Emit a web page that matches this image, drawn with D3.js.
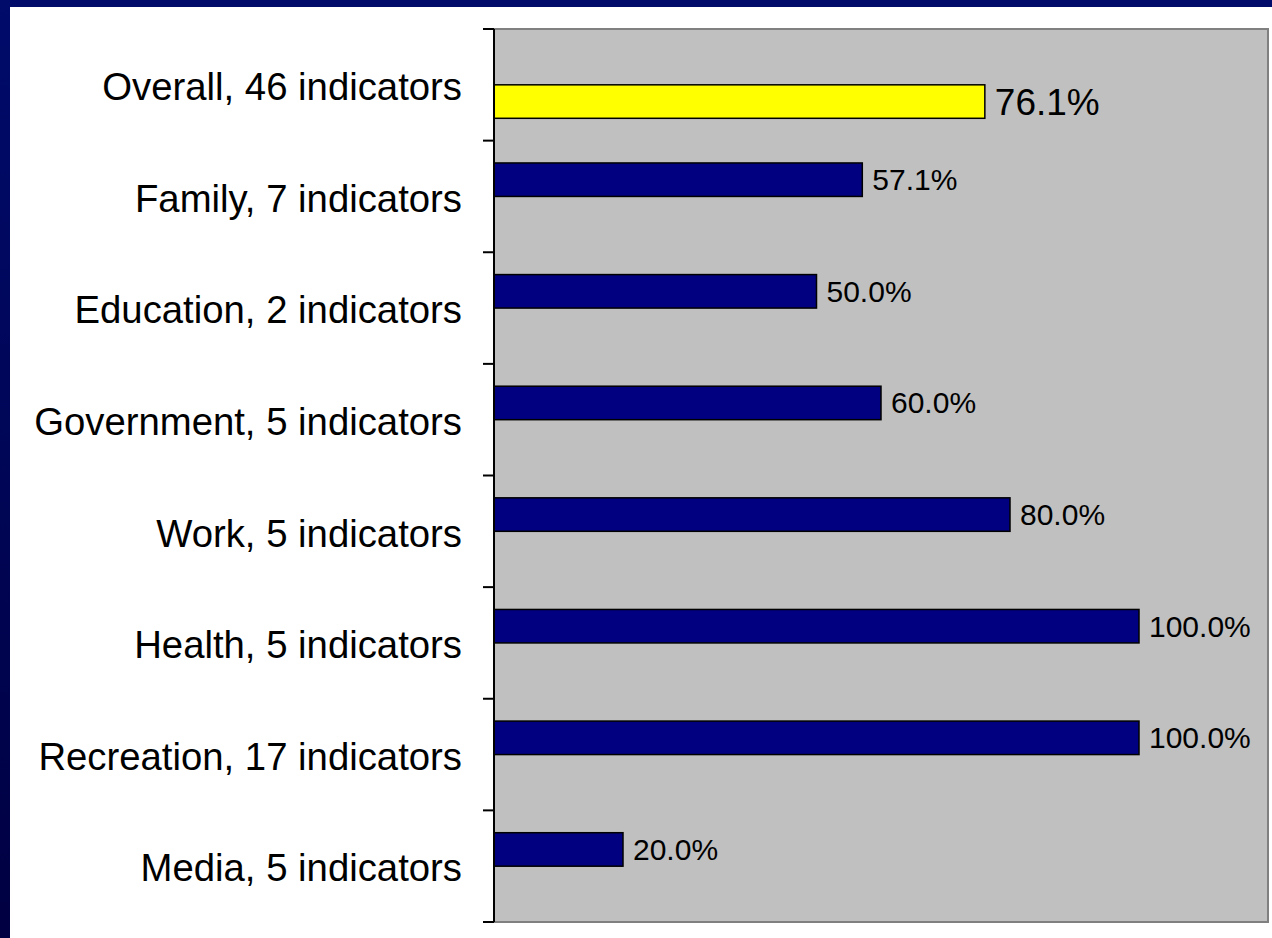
<!DOCTYPE html>
<html>
<head>
<meta charset="utf-8">
<script src="https://cdn.jsdelivr.net/npm/d3@7"></script>
<style>
  body { margin: 0; background: #fff; }
  svg { display: block; font-family: "Liberation Sans", Arial, sans-serif; }
</style>
</head>
<body>
<div id="chart"></div>
<script>
// Categories, top to bottom
const categories = [
    'Overall, 46 indicators',
    'Family, 7 indicators',
    'Education, 2 indicators',
    'Government, 5 indicators',
    'Work, 5 indicators',
    'Health, 5 indicators',
    'Recreation, 17 indicators',
    'Media, 5 indicators'
];

// Two series: the overall score (yellow) and the per-area scores (navy)
const overallValues = [76.1, null, null, null, null, null, null, null];
const areaValues = [null, 57.1, 50.0, 60.0, 80.0, 100.0, 100.0, 20.0];
const seriesNames = ['areas', 'overall'];

const xTicks = [0, 120];

const width = 1272;
const height = 938;
const plot = { left: 494, right: 1268, top: 29, bottom: 922 };

const svg = d3.select('#chart')
    .append('svg')
    .attr('width', width)
    .attr('height', height);

// Slide frame
const defs = svg.append('defs');
const grad = defs.append('linearGradient')
    .attr('id', 'frameGrad')
    .attr('x1', 0).attr('y1', 0).attr('x2', 0).attr('y2', 1);
grad.append('stop').attr('offset', '0%').attr('stop-color', '#000b6a');
grad.append('stop').attr('offset', '100%').attr('stop-color', '#000042');

svg.append('rect').attr('width', width).attr('height', height).attr('fill', '#fff');
svg.append('rect').attr('x', 0).attr('y', 0).attr('width', 10).attr('height', height).attr('fill', 'url(#frameGrad)');
svg.append('rect').attr('x', 0).attr('y', 0).attr('width', width).attr('height', 7).attr('fill', '#000b6a');

// Scales
const x = d3.scaleLinear()
    .domain(d3.extent(xTicks))
    .range([plot.left, plot.right]);

const y = d3.scaleBand()
    .domain(categories)
    .range([plot.top, plot.bottom])
    .paddingInner(0)
    .paddingOuter(0);

const ySub = d3.scaleBand()
    .domain(seriesNames)
    .range([0, y.bandwidth()])
    .paddingInner(0)
    .paddingOuter(0.667);

// Plot area
svg.append('rect')
    .attr('x', plot.left)
    .attr('y', plot.top)
    .attr('width', plot.right - plot.left)
    .attr('height', plot.bottom - plot.top)
    .attr('fill', '#c0c0c0')
    .attr('stroke', '#808080')
    .attr('stroke-width', 2);

// Bars
const rows = categories.map((c, i) => ({ name: c, overall: overallValues[i], areas: areaValues[i] }));
const series = [
    { key: 'areas', fill: '#000080', size: 30 },
    { key: 'overall', fill: '#ffff00', size: 37 }
];

series.forEach(s => {
    const data = rows.filter(r => r[s.key] != null);
    svg.append('g')
        .selectAll('rect')
        .data(data)
        .enter()
        .append('rect')
        .attr('x', x(0))
        .attr('y', d => y(d.name) + ySub(s.key))
        .attr('width', d => x(d[s.key]) - x(0))
        .attr('height', ySub.bandwidth())
        .attr('fill', s.fill)
        .attr('stroke', '#000')
        .attr('stroke-width', 1.5);

    svg.append('g')
        .selectAll('text')
        .data(data)
        .enter()
        .append('text')
        .attr('x', d => x(d[s.key]) + 10)
        .attr('y', d => y(d.name) + ySub(s.key) + ySub.bandwidth() / 2)
        .attr('dy', '0.35em')
        .style('font-size', s.size + 'px')
        .style('fill', '#000')
        .text(d => d[s.key].toFixed(1) + '%');
});

// Category axis
const yAxis = svg.append('g')
    .attr('transform', `translate(${plot.left},3)`)
    .call(d3.axisLeft(y).tickSize(0).tickPadding(32));

yAxis.select('.domain').remove();

yAxis.selectAll('text')
    .style('font-size', '38.3px')
    .style('font-family', '"Liberation Sans", Arial, sans-serif')
    .attr('fill', '#000');

svg.append('line')
    .attr('x1', plot.left).attr('x2', plot.left)
    .attr('y1', plot.top).attr('y2', plot.bottom)
    .attr('stroke', '#000')
    .attr('stroke-width', 2);

// Tick marks between categories
const boundaries = categories.map(c => y(c)).concat([plot.bottom]);
svg.append('g')
    .selectAll('line')
    .data(boundaries)
    .enter()
    .append('line')
    .attr('x1', plot.left - 11)
    .attr('x2', plot.left)
    .attr('y1', d => d)
    .attr('y2', d => d)
    .attr('stroke', '#000')
    .attr('stroke-width', 2);
</script>
</body>
</html>
